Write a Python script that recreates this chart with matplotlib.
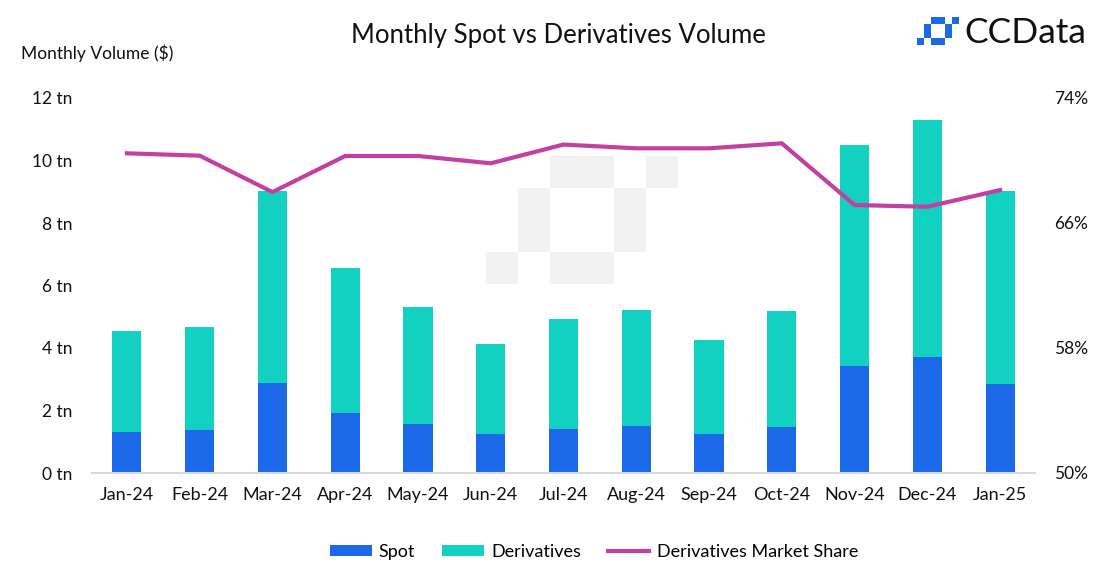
import matplotlib.pyplot as plt
from matplotlib.patches import Rectangle
import numpy as np

plt.rcParams['font.family'] = ['Lato', 'DejaVu Sans']

months = ["Jan-24", "Feb-24", "Mar-24", "Apr-24", "May-24", "Jun-24", "Jul-24",
          "Aug-24", "Sep-24", "Oct-24", "Nov-24", "Dec-24", "Jan-25"]
spot = [1.32, 1.38, 2.88, 1.93, 1.57, 1.24, 1.40, 1.51, 1.25, 1.48, 3.43, 3.70, 2.85]
total = [4.55, 4.67, 9.02, 6.55, 5.32, 4.13, 4.93, 5.23, 4.25, 5.17, 10.51, 11.30, 9.01]
derivatives = [t - s for t, s in zip(total, spot)]
share = [70.46, 70.31, 67.98, 70.29, 70.29, 69.82, 71.02, 70.78, 70.78, 71.10, 67.15, 67.04, 68.11]

left_ticks = [0, 2, 4, 6, 8, 10, 12]
right_ticks = [50, 58, 66, 74]

c_spot = "#1b68e9"
c_deriv = "#13d1c1"
c_line = "#c2409f"

W, H = 1120, 583
fig = plt.figure(figsize=(W / 100, H / 100), dpi=100)
ax = fig.add_axes([92 / W, 1 - 473 / H, (1035 - 92) / W, (473 - 98) / H])

# watermark squares behind the chart (pixel grid, 32 px cells)
cells = [(2, 0), (3, 0), (5, 0), (1, 1), (4, 1), (1, 2), (4, 2), (0, 3), (2, 3), (3, 3)]
for cx, cy in cells:
    x0 = 486 + cx * 32
    y0 = 156 + cy * 32
    fig.patches.append(Rectangle((x0 / W, 1 - (y0 + 32) / H), 32 / W, 32 / H,
                                 transform=fig.transFigure, facecolor="#f2f2f2",
                                 edgecolor="none", zorder=0))
ax.set_facecolor("none")

x = np.arange(len(months))
ax.bar(x, spot, width=0.4, color=c_spot, label="Spot", zorder=2)
ax.bar(x, derivatives, width=0.4, bottom=spot, color=c_deriv, label="Derivatives", zorder=2)

ax.set_xlim(-0.48, 12.48)
ax.set_ylim(0, 12)
ax.set_yticks(left_ticks)
ax.set_yticklabels([f"{v} tn" for v in left_ticks])
ax.set_xticks(x)
ax.set_xticklabels(months)
ax.tick_params(axis='both', length=0, labelsize=12.5, colors="#111111")
ax.tick_params(axis='y', pad=14)
ax.tick_params(axis='x', pad=10, labelsize=13)
for s in ["top", "right", "left"]:
    ax.spines[s].set_visible(False)
ax.spines["bottom"].set_color("#d9d9d9")
ax.spines["bottom"].set_linewidth(1.5)

ax2 = ax.twinx()
ax2.plot(x, share, color=c_line, linewidth=3, label="Derivatives Market Share",
         solid_joinstyle="miter")
ax2.set_ylim(50, 74)
ax2.set_yticks(right_ticks)
ax2.set_yticklabels([f"{v}%" for v in right_ticks])
ax2.tick_params(axis='y', length=0, labelsize=12.5, pad=14, colors="#111111")
for s in ["top", "right", "left", "bottom"]:
    ax2.spines[s].set_visible(False)

fig.text(558 / W, 1 - 35 / H, "Monthly Spot vs Derivatives Volume", ha="center",
         va="center", fontsize=18.5, color="#111111")
fig.text(21 / W, 1 - 53 / H, "Monthly Volume ($)", ha="left", va="center",
         fontsize=12.5, color="#111111")

# logo
lg = 7
for cx, cy in cells:
    x0 = 917 + cx * lg
    y0 = 17 + cy * lg
    fig.patches.append(Rectangle((x0 / W, 1 - (y0 + lg) / H), lg / W, lg / H,
                                 transform=fig.transFigure, facecolor=c_spot,
                                 edgecolor="none"))
fig.text(964 / W, 1 - 33 / H, "CCData", ha="left", va="center", fontsize=25.5,
         color="#111111")

h1, l1 = ax.get_legend_handles_labels()
h2, l2 = ax2.get_legend_handles_labels()
fig.legend(h1 + h2, l1 + l2, loc="center", bbox_to_anchor=(594 / W, 1 - 552 / H),
           ncol=3, frameon=False, fontsize=13, handlelength=2.3, handleheight=0.6,
           columnspacing=1.5, handletextpad=0.4)

fig.savefig("out.png", dpi=100)
